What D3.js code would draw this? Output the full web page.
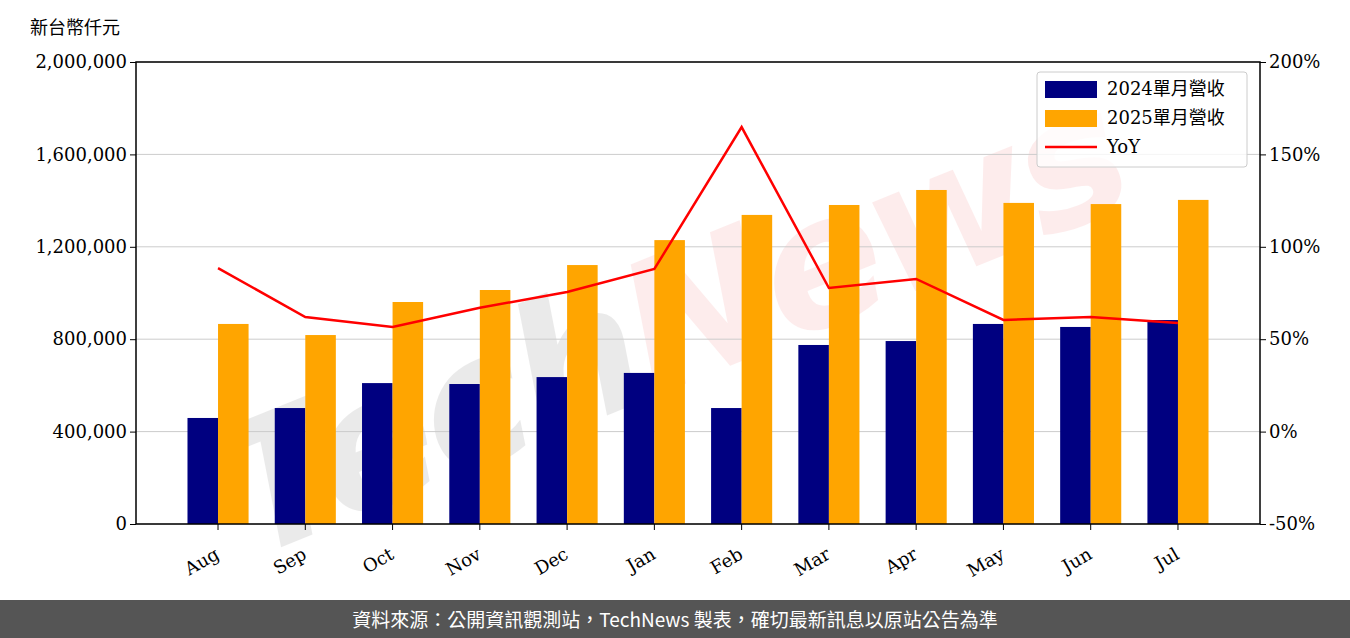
<!DOCTYPE html>
<html><head><meta charset="utf-8">
<script src="https://cdn.jsdelivr.net/npm/d3@7"></script>
<style>body{margin:0;background:#fff}svg{display:block}</style>
</head><body><svg id="c" width="1350" height="638"></svg>
<script>
const months=["Aug","Sep","Oct","Nov","Dec","Jan","Feb","Mar","Apr","May","Jun","Jul"];
const rev2024=[459000,502000,610000,606000,636000,654000,502000,775000,792000,866000,853000,883000];
const rev2025=[866000,818000,961000,1013000,1121000,1229000,1338000,1381000,1446000,1390000,1385000,1403000];
const yoy=[88.5,62,56.6,67,75.5,88,164.8,77.7,82.6,60.4,62,58.8];
const leftTicks=[0,400000,800000,1200000,1600000,2000000];
const rightTicks=[-50,0,50,100,150,200];
const labels=["2024單月營收","2025單月營收","YoY"];

const svg=d3.select("#c");
const L=136,R=1260,T=62,B=524;
const serif="DejaVu Serif, serif";
const x=d3.scaleBand().domain(months).range([L,R]).paddingOuter(0.59).paddingInner(0.3);
const y=d3.scaleLinear().domain([0,2000000]).range([B,T]);
const y2=d3.scaleLinear().domain([-50,200]).range([B,T]);
const bw=x.bandwidth()/2;

// watermark
const wm=svg.append("text").attr("x",670).attr("y",385).attr("text-anchor","middle")
 .attr("transform","rotate(-22,670,320)").attr("font-family","DejaVu Sans, sans-serif")
 .attr("font-size",180).attr("font-weight","bold").attr("font-style","italic").attr("letter-spacing",-6);
wm.append("tspan").attr("fill","#000").attr("opacity",0.08).text("Tech");
wm.append("tspan").attr("fill","#e00").attr("opacity",0.07).text("News");

// grid
svg.append("g").selectAll("line").data(leftTicks).join("line")
 .attr("x1",L).attr("x2",R).attr("y1",d=>y(d)).attr("y2",d=>y(d)).attr("stroke","#ccc").attr("stroke-width",1);

svg.append("g").selectAll("rect").data(rev2024).join("rect")
 .attr("x",(d,i)=>x(months[i])).attr("width",bw).attr("y",d=>y(d)).attr("height",d=>B-y(d)).attr("fill","#000080");
svg.append("g").selectAll("rect").data(rev2025).join("rect")
 .attr("x",(d,i)=>x(months[i])+bw).attr("width",bw).attr("y",d=>y(d)).attr("height",d=>B-y(d)).attr("fill","#FFA500");

svg.append("path").datum(yoy).attr("fill","none").attr("stroke","#f00").attr("stroke-width",2.5)
 .attr("d",d3.line().x((d,i)=>x(months[i])+bw).y(d=>y2(d)));

svg.append("rect").attr("x",L).attr("y",T).attr("width",R-L).attr("height",B-T).attr("fill","none").attr("stroke","#000").attr("stroke-width",1.5);

const ya=svg.append("g").attr("transform",`translate(${L},0)`).call(d3.axisLeft(y).tickValues(leftTicks).tickFormat(d3.format(",")).tickSizeOuter(0));
const yb=svg.append("g").attr("transform",`translate(${R},0)`).call(d3.axisRight(y2).tickValues(rightTicks).tickFormat(d=>d+"%").tickSizeOuter(0));
const xa=svg.append("g").attr("transform",`translate(0,${B})`).call(d3.axisBottom(x).tickSizeOuter(0));
[ya,yb,xa].forEach(g=>{g.select(".domain").remove();g.selectAll("text").attr("font-family",serif).attr("font-size",18).attr("fill","#000");});
xa.selectAll("text").attr("text-anchor","end").attr("dy",0).attr("transform","translate(-2,26) rotate(-30)");

svg.append("text").attr("x",30).attr("y",34).attr("font-family","Noto Sans CJK TC, sans-serif").attr("font-size",18).text("新台幣仟元");

// legend
const lg=svg.append("g").attr("transform","translate(1037,72)");
lg.append("rect").attr("width",210).attr("height",95).attr("rx",3).attr("fill","#fff").attr("fill-opacity",0.8).attr("stroke","#ccc");
const lc=["#000080","#FFA500","#f00"];
labels.forEach((t,i)=>{
 const yy=17+i*29;
 if(i<2) lg.append("rect").attr("x",8).attr("y",yy-8).attr("width",52).attr("height",17).attr("fill",lc[i]);
 else lg.append("line").attr("x1",8).attr("x2",60).attr("y1",yy).attr("y2",yy).attr("stroke",lc[i]).attr("stroke-width",2.5);
 lg.append("text").attr("x",70).attr("y",yy+6).attr("font-family","DejaVu Serif, Noto Sans CJK TC, serif").attr("font-size",18).text(t);
});

svg.append("rect").attr("x",0).attr("y",600).attr("width",1350).attr("height",38).attr("fill","#555");
svg.append("text").attr("x",675).attr("y",627).attr("text-anchor","middle").attr("fill","#fff")
 .attr("font-family","Noto Sans CJK TC, sans-serif").attr("font-size",19).text("資料來源：公開資訊觀測站，TechNews 製表，確切最新訊息以原站公告為準");
</script></body></html>
